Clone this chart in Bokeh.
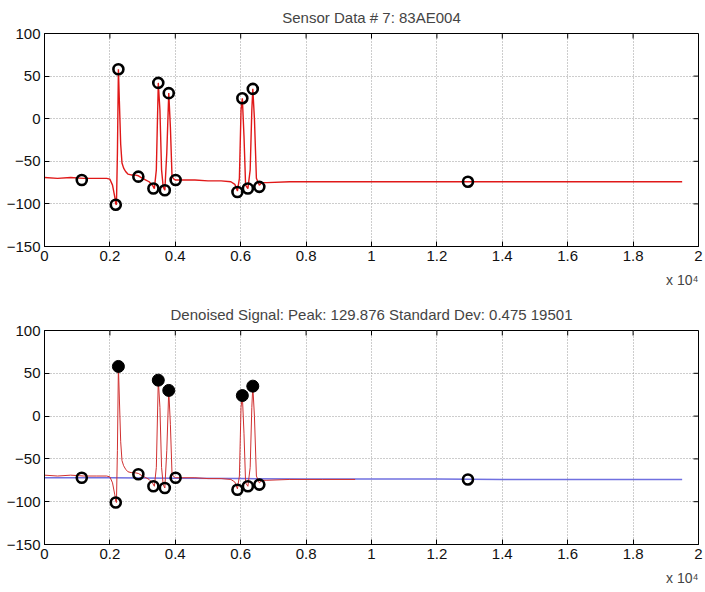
from bokeh.plotting import figure
from bokeh.models import FixedTicker, Range1d, Title
from bokeh.layouts import column
from bokeh.embed import file_html
from bokeh.resources import INLINE

# raw sensor signal (sample index, value)
sig_x = [0, 400, 800, 1200, 1600, 1900, 2000, 2080, 2150, 2180, 2200, 2230, 2260, 2290, 2330, 2370,
         2420, 2480, 2550, 2650, 2750, 2870, 3000, 3100, 3200, 3300, 3360, 3420, 3480, 3530, 3580,
         3630, 3680, 3740, 3800, 3850, 3900, 3960, 4010, 4200, 4600, 5000, 5400, 5700, 5820, 5900,
         5960, 6010, 6050, 6100, 6150, 6220, 6290, 6340, 6370, 6420, 6480, 6570, 6650, 6800, 7500,
         8500, 9500, 10500, 11500, 12500, 13500, 14500, 15500, 16500, 17500, 18500, 19500]
sig_y = [-69, -70, -69, -70, -70, -70, -71, -78, -92, -100, -101, -40, 58, 20, -30, -52,
         -58, -62, -65, -66, -66, -67, -70, -72, -74, -78, -82, -60, 42, 10, -60,
         -80, -84, -40, 30, -10, -68, -71, -72, -72, -72, -73, -73, -74, -77, -85,
         -70, 10, 24, -20, -78, -82, -60, 10, 35, 0, -70, -78, -75, -75, -74,
         -74, -74, -74, -74, -74, -74, -74, -74, -74, -74, -74, -74]

# denoised signal
den_x = [0, 2000, 4000, 6000, 8000, 10000, 12000, 14000, 16000, 18000, 19500]
den_y = [-72, -72, -72.5, -73, -73.5, -73.5, -73.5, -74, -74, -74, -74]

# detected points
peak_x = [2260, 3480, 3800, 6050, 6370]
peak_y = [58, 42, 30, 24, 35]
trough_x = [1140, 2180, 2870, 3330, 3680, 4010, 5900, 6220, 6570, 12950]
trough_y = [-72, -101, -68, -82, -84, -72, -86, -82, -80, -74]

x_ticks = [0, 2000, 4000, 6000, 8000, 10000, 12000, 14000, 16000, 18000, 20000]
x_tick_labels = ["0", "0.2", "0.4", "0.6", "0.8", "1", "1.2", "1.4", "1.6", "1.8", "2"]
y_ticks = [-150, -100, -50, 0, 50, 100]

FONT = "Liberation Sans"
X0, X1, Y0, Y1 = 0, 20000, -150, 100


def make_fig(title, height, top, bottom):
    p = figure(width=705, height=height, output_backend="svg", toolbar_location=None,
               x_range=Range1d(X0, X1), y_range=Range1d(Y0, Y1),
               min_border_left=44, min_border_right=7, min_border_top=top,
               min_border_bottom=bottom, title=title)
    p.title.align = "center"
    p.title.vertical_align = "middle"
    p.title.text_font = FONT
    p.title.text_font_size = "15px"
    p.title.text_font_style = "normal"
    p.title.standoff = 14
    p.outline_line_color = "black"
    p.outline_line_width = 1
    p.background_fill_color = "white"
    p.border_fill_color = "white"
    for ax in [p.xaxis[0], p.yaxis[0]]:
        ax.major_label_text_font = FONT
        ax.major_label_text_font_size = "15px"
        ax.major_label_text_color = "#111111"
        ax.major_tick_in = 5
        ax.major_tick_out = 0
        ax.minor_tick_in = 0
        ax.minor_tick_out = 0
        ax.axis_line_color = "black"
        ax.major_tick_line_color = "black"
    p.xaxis[0].ticker = FixedTicker(ticks=x_ticks)
    p.xaxis[0].major_label_overrides = dict(zip(x_ticks, x_tick_labels))
    p.xaxis[0].major_label_standoff = 4
    p.yaxis[0].ticker = FixedTicker(ticks=y_ticks)
    p.yaxis[0].major_label_standoff = 4
    # inward ticks on top and right edges (MATLAB box style)
    ty = 5 * (Y1 - Y0) / 214
    tx = 5 * (X1 - X0) / 654
    p.segment(x0=x_ticks, y0=[Y1] * len(x_ticks), x1=x_ticks, y1=[Y1 - ty] * len(x_ticks),
              line_color="black", line_width=1)
    p.segment(x0=[X1] * len(y_ticks), y0=y_ticks, x1=[X1 - tx] * len(y_ticks), y1=y_ticks,
              line_color="black", line_width=1)
    p.xgrid.ticker = FixedTicker(ticks=x_ticks)
    p.ygrid.ticker = FixedTicker(ticks=y_ticks)
    for g in [p.xgrid[0], p.ygrid[0]]:
        g.grid_line_color = "#9a9a9a"
        g.grid_line_dash = "1 2"
        g.grid_line_width = 1
    p.add_layout(Title(text="x 10\u2074", align="right", text_font=FONT,
                       text_font_size="14px", text_font_style="normal", standoff=12), "below")
    return p


p1 = make_fig("Sensor Data # 7: 83AE004", 296, 32, 50)
p1.line(sig_x, sig_y, line_color="#e01818", line_width=1.4)
p1.scatter(peak_x + trough_x, peak_y + trough_y, marker="circle", size=10,
           fill_alpha=0, line_color="black", line_width=2.6)

p2 = make_fig("Denoised Signal: Peak: 129.876 Standard Dev: 0.475 19501", 296, 34, 48)
red_x = [x for x in sig_x if x <= 10000]
red_y = sig_y[:len(red_x)]
p2.line(den_x, den_y, line_color="#7070e0", line_width=1.5)
p2.line(red_x, red_y, line_color="#d03030", line_width=1)
p2.scatter(trough_x, trough_y, marker="circle", size=10,
           fill_alpha=0, line_color="black", line_width=2.6)
p2.scatter(peak_x, peak_y, marker="circle", size=12,
           fill_color="black", line_color="black", line_width=1)

layout = column(p1, p2, spacing=0)
open("out.html", "w").write(file_html(layout, INLINE))
